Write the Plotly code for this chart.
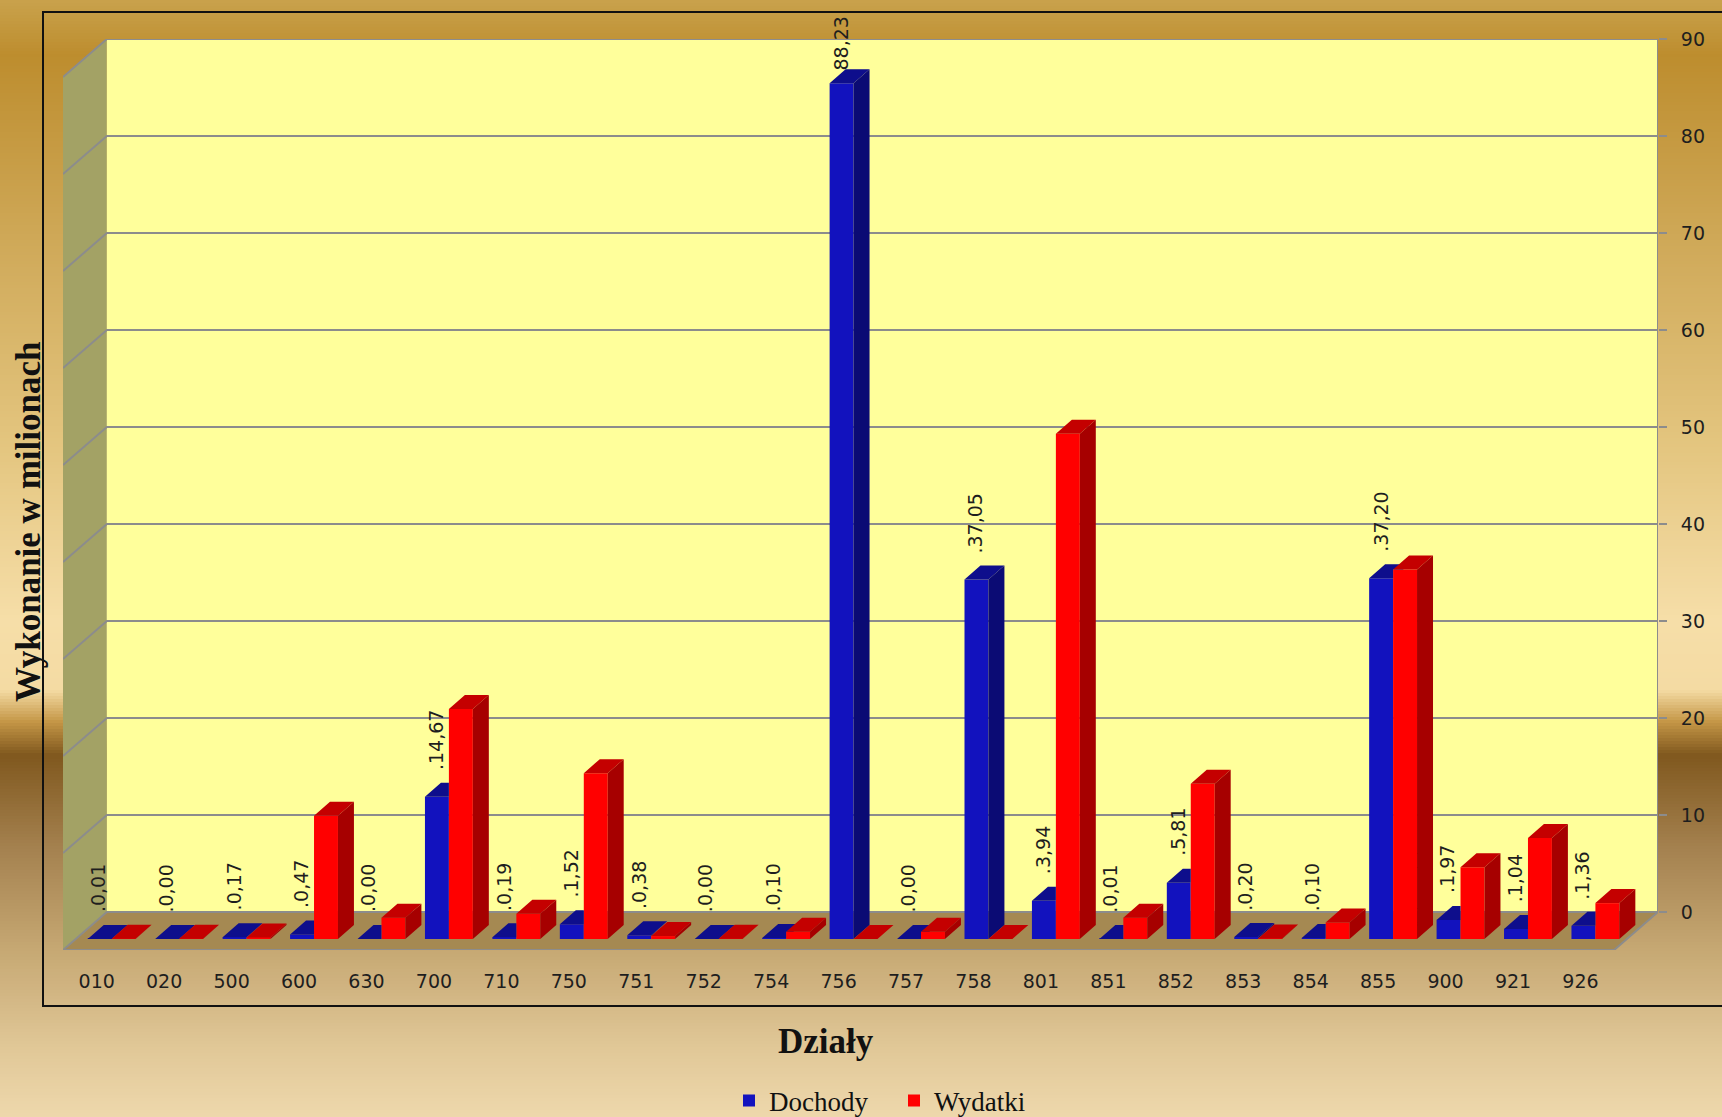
import plotly.graph_objects as go

# ---------------- data ----------------
categories = ["010", "020", "500", "600", "630", "700", "710", "750", "751", "752",
              "754", "756", "757", "758", "801", "851", "852", "853", "854", "855",
              "900", "921", "926"]
dochody = [0.01, 0.00, 0.17, 0.47, 0.00, 14.67, 0.19, 1.52, 0.38, 0.00,
           0.10, 88.23, 0.00, 37.05, 3.94, 0.01, 5.81, 0.20, 0.10, 37.20,
           1.97, 1.04, 1.36]
wydatki = [0.02, 0.02, 0.15, 12.7, 2.2, 23.7, 2.6, 17.1, 0.3, 0.02,
           0.75, 0.0, 0.75, 0.0, 52.1, 2.2, 16.0, 0.05, 1.7, 38.1,
           7.4, 10.4, 3.7]
dochody_labels = [".0,01", ".0,00", ".0,17", ".0,47", ".0,00", ".14,67", ".0,19", ".1,52",
                  ".0,38", ".0,00", ".0,10", "88,23", ".0,00", ".37,05", ".3,94", ".0,01",
                  ".5,81", ".0,20", ".0,10", ".37,20", ".1,97", ".1,04", ".1,36"]
y_ticks = [0, 10, 20, 30, 40, 50, 60, 70, 80, 90]

# ---------------- geometry / style constants ----------------
W, H = 1722, 1117
ML, MR, MT, MB = 63, 64, 39, 167
PW, PH = W - ML - MR, H - MT - MB
N = len(categories)
X_MIN = -0.5
DEPTH_X = 0.65
DEPTH_Y = 3.918
Y_TOP = 90
X_MAX = X_MIN + N + DEPTH_X
BAR_BASE = -2.784
BAR_W = 0.355
BLUE_OFF = -0.133
RED_OFF = BLUE_OFF + BAR_W
DX = 0.237
DY = 1.443

BLUE, BLUE_SIDE, BLUE_TOP = "#1212BE", "#0B0B74", "#0E0E8C"
RED, RED_SIDE, RED_TOP = "#FF0000", "#A60000", "#C40000"
GRID = "#8C8C8C"
TXT = "#1E1E1E"

# ---------------- background gradient ----------------
stops = [(0, (201, 162, 76)), (55, (189, 141, 46)), (250, (208, 170, 90)),
         (450, (228, 198, 128)), (620, (246, 222, 168)), (690, (244, 219, 163)),
         (722, (196, 150, 70)), (755, (128, 88, 30)), (850, (165, 130, 80)),
         (950, (198, 168, 115)), (1050, (225, 200, 152)), (1117, (238, 216, 172))]


def grad_color(py):
    for (y0, c0), (y1, c1) in zip(stops[:-1], stops[1:]):
        if y0 <= py <= y1:
            t = (py - y0) / (y1 - y0)
            c = [round(a + (b - a) * t) for a, b in zip(c0, c1)]
            return "rgb(%d,%d,%d)" % tuple(c)
    return "rgb(%d,%d,%d)" % stops[-1][1]


def px_x(p):
    return (p - ML) / PW


def px_y(p):
    return (MT + PH - p) / PH


shapes = []
step = 3
for py in range(0, H, step):
    shapes.append(dict(type="rect", xref="paper", yref="paper", layer="below",
                       x0=px_x(-5), x1=px_x(W + 5), y0=px_y(py + step + 0.6), y1=px_y(py),
                       fillcolor=grad_color(py + step / 2), line=dict(width=0)))
# chart border
shapes.append(dict(type="rect", xref="paper", yref="paper", layer="below",
                   x0=px_x(43), x1=px_x(W + 20), y0=px_y(1006), y1=px_y(12),
                   fillcolor="rgba(0,0,0,0)", line=dict(color="#111111", width=2)))

# floor, side wall, back wall
bx0 = X_MIN + DEPTH_X
shapes.append(dict(type="path", xref="x", yref="y", layer="below",
                   path=f"M{X_MIN},{-DEPTH_Y} L{X_MIN + N},{-DEPTH_Y} L{X_MAX},0 L{bx0},0 Z",
                   fillcolor="#A58952", line=dict(width=0)))
shapes.append(dict(type="path", xref="x", yref="y", layer="below",
                   path=f"M{X_MIN},{-DEPTH_Y} L{bx0},0 L{bx0},{Y_TOP} L{X_MIN},{Y_TOP - DEPTH_Y} Z",
                   fillcolor="#A3A265", line=dict(width=0)))
shapes.append(dict(type="rect", xref="x", yref="y", layer="below",
                   x0=bx0, x1=X_MAX, y0=0, y1=Y_TOP,
                   fillcolor="#FFFF9B", line=dict(width=0)))
for t in y_ticks:
    shapes.append(dict(type="path", xref="x", yref="y", layer="below",
                       path=f"M{X_MIN},{t - DEPTH_Y} L{bx0},{t} L{X_MAX},{t}",
                       line=dict(color=GRID, width=2)))
shapes.append(dict(type="path", xref="x", yref="y", layer="below",
                   path=f"M{X_MIN},{-DEPTH_Y} L{X_MIN + N},{-DEPTH_Y} L{X_MAX},0 L{X_MAX},{Y_TOP}",
                   line=dict(color=GRID, width=2)))

# ---------------- 3D faces ----------------
xs_idx = list(range(N))
bs, bt, rt, rsd = ([], []), ([], []), ([], []), ([], [])


def add_poly(store, pts):
    for x, y in pts:
        store[0].append(x)
        store[1].append(y)
    store[0].append(None)
    store[1].append(None)


for i in xs_idx:
    x0 = i + BLUE_OFF
    x1 = x0 + BAR_W
    x2 = x1 + BAR_W
    z = BAR_BASE
    b = BAR_BASE + dochody[i]
    r = BAR_BASE + wydatki[i]
    rs = min(r, b)
    if rs < b:
        add_poly(bs, [(x1, rs), (x1 + DX, rs + DY), (x1 + DX, b + DY), (x1, b)])
    rr = min(max(r, b), b + DY)
    add_poly(bt, [(x0, b), (x0 + DX, b + DY), (x1 + DX, b + DY),
                  (x1 + (rr - b) * DX / DY, rr), (x1, rr), (x1, b)])
    add_poly(rt, [(x1, r), (x1 + DX, r + DY), (x2 + DX, r + DY), (x2, r)])
    add_poly(rsd, [(x2, z), (x2 + DX, z + DY), (x2 + DX, r + DY), (x2, r)])

fig = go.Figure()
fig.add_trace(go.Bar(name="Dochody", x=xs_idx, y=dochody, base=[BAR_BASE] * N,
                     offset=BLUE_OFF, width=BAR_W, marker=dict(color=BLUE, line=dict(width=0)),
                     hovertemplate="%{y:.2f}<extra>Dochody</extra>"))
fig.add_trace(go.Bar(name="Wydatki", x=xs_idx, y=wydatki, base=[BAR_BASE] * N,
                     offset=RED_OFF, width=BAR_W, marker=dict(color=RED, line=dict(width=0)),
                     hovertemplate="%{y:.2f}<extra>Wydatki</extra>"))
for store, col in [(bs, BLUE_SIDE), (bt, BLUE_TOP), (rt, RED_TOP), (rsd, RED_SIDE)]:
    fig.add_trace(go.Scatter(x=store[0], y=store[1], mode="lines", fill="toself",
                             fillcolor=col, line=dict(width=0, color=col),
                             hoverinfo="skip", showlegend=False))

annotations = []
for i in xs_idx:
    annotations.append(dict(x=i + 0.03, y=min(dochody[i] - 0.25, 86.5), xref="x", yref="y",
                            text=dochody_labels[i], showarrow=False, textangle=-90,
                            xanchor="center", yanchor="bottom",
                            font=dict(family="DejaVu Sans", size=19, color=TXT)))
annotations.append(dict(x=px_x(826), y=px_y(1041), xref="paper", yref="paper",
                        text="<b>Działy</b>", showarrow=False, xanchor="center", yanchor="middle",
                        font=dict(family="Liberation Serif", size=35, color="#111111")))
annotations.append(dict(x=px_x(28), y=px_y(522), xref="paper", yref="paper",
                        text="<b>Wykonanie w milionach</b>", showarrow=False, textangle=-90,
                        xanchor="center", yanchor="middle",
                        font=dict(family="Liberation Serif", size=35, color="#111111")))

fig.update_layout(
    width=W, height=H, autosize=False,
    margin=dict(l=ML, r=MR, t=MT, b=MB, pad=0, autoexpand=False),
    paper_bgcolor="#D8B468", plot_bgcolor="rgba(0,0,0,0)",
    barmode="overlay",
    shapes=shapes, annotations=annotations,
    showlegend=True,
    legend=dict(orientation="h", x=px_x(729), xanchor="left", y=px_y(1101), yanchor="middle",
                bgcolor="rgba(0,0,0,0)", font=dict(family="Liberation Serif", size=27, color="#111111"),
                itemwidth=30, entrywidth=120, entrywidthmode="pixels"),
    xaxis=dict(range=[X_MIN, X_MAX], tickmode="array", tickvals=xs_idx, ticktext=categories,
               showgrid=False, zeroline=False, showline=False,
               ticks="outside", ticklen=14, tickcolor="rgba(0,0,0,0)",
               tickfont=dict(family="DejaVu Sans", size=19, color=TXT), fixedrange=True),
    yaxis=dict(range=[-DEPTH_Y, Y_TOP], side="right", tickmode="array", tickvals=y_ticks,
               showgrid=False, zeroline=False, showline=False,
               ticks="outside", ticklen=8, tickwidth=2, tickcolor=GRID,
               ticklabelstandoff=10,
               tickfont=dict(family="DejaVu Sans", size=19, color=TXT), fixedrange=True),
)

fig.write_html("out.html", config={"displayModeBar": False},
               post_script="document.body.style.margin='0px';document.body.style.overflow='hidden';")
